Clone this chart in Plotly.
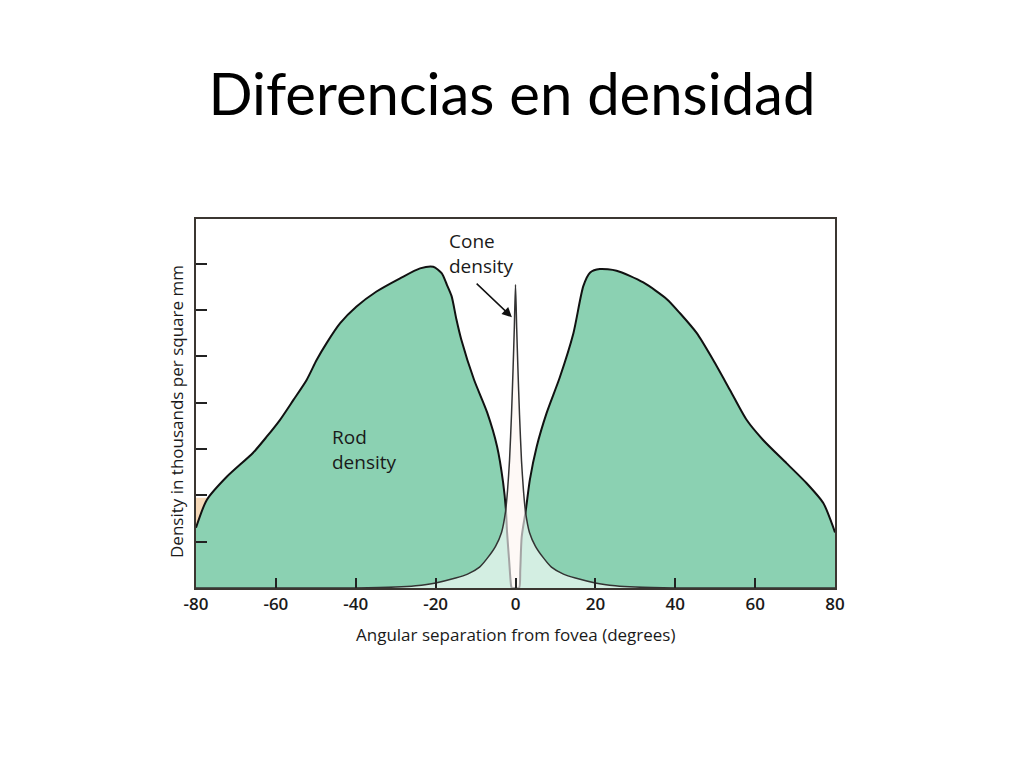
import plotly.graph_objects as go

# ---- data (degrees from fovea, density in thousands per mm^2) ----
rod_x = [-80, -77.3, -72.3, -65.7, -62.3, -59, -55.6, -52.3, -49.8, -47.3, -43.9,
         -39.8, -34.8, -28.9, -23.9, -20.6, -18.5, -17.2, -16.0, -14.8, -13.6, -10.4,
         -7.1, -4.6, -3.1, -2.4, -2.1, -1.6, -1.1, -0.9, 0, 0.9, 1.2, 1.55, 2.6, 3.6,
         5.3, 7.8, 11.1, 14.5, 17.0, 18.7, 21.1, 25.3, 32, 37.9, 41.2, 45.4, 49.5,
         53.7, 57.9, 62.0, 67.9, 72.9, 77.1, 79.2, 80]
rod_y = [26, 38, 48, 58.4, 65.3, 72.5, 81.2, 89.8, 98.4, 105.7, 114.3,
         121.5, 128, 133.7, 138, 138.7, 135.9, 131, 126, 116, 107.4, 90,
         75.8, 61, 45.5, 33.8, 23.8, 12, 1, 0, 0, 0, 8, 22, 33.8, 46.8,
         61, 75.6, 91, 110, 130.4, 136.2, 137.7, 137, 131.9, 124.7, 118.6, 110, 98.4,
         85.5, 72.5, 63.9, 53.8, 45.2, 36.6, 27.9, 24]

cone_x = [-80, -40, -30, -25, -20, -15, -12, -9, -7, -5, -3.5, -2.5, -2, -1.5, -1,
          -0.6, -0.3, 0, 0.3, 0.6, 1, 1.5, 2, 2.5, 3.5, 5, 7, 9, 12, 15, 20, 25, 30,
          40, 80]
cone_y = [0, 0, 0.4, 1, 2.2, 4.3, 6, 9, 13, 18, 24, 33, 42, 55, 75,
          95, 112, 131, 112, 95, 75, 55, 42, 33, 24, 18, 13, 9, 6, 4.3, 2.2, 1, 0.4,
          0, 0]

x_ticks = [-80, -60, -40, -20, 0, 20, 40, 60, 80]
y_ticks = [0, 20, 40, 60, 80, 100, 120, 140]

TXT = "Open Sans"
OFF = 8  # page body margin offset

fig = go.Figure()

# cream fill under cone curve (visible in the rod-free centre)
fig.add_trace(go.Scatter(x=cone_x, y=cone_y, mode="lines",
                         line=dict(width=0, shape="spline", smoothing=0.6),
                         fill="tozeroy", fillcolor="#fbf0e6",
                         hoverinfo="skip", showlegend=False))
# rod density
fig.add_trace(go.Scatter(x=rod_x, y=rod_y, mode="lines",
                         line=dict(color="#111111", width=2, shape="spline", smoothing=0.7),
                         fill="tozeroy", fillcolor="#8bd1b2",
                         hoverinfo="skip", showlegend=False))
# cone density overlay (pale wash over rods)
fig.add_trace(go.Scatter(x=cone_x, y=cone_y, mode="lines",
                         line=dict(color="#333333", width=1.5, shape="spline", smoothing=0.6),
                         fill="tozeroy", fillcolor="rgba(255,255,255,0.62)",
                         hoverinfo="skip", showlegend=False))

fig.add_shape(type="rect", xref="x", yref="y", x0=-80, x1=-77, y0=0, y1=39,
              fillcolor="#f6d9b8", line=dict(width=0), layer="below")

fig.update_layout(
    width=1024, height=768,
    margin=dict(l=196 - OFF, r=189 + OFF, t=219 - OFF, b=180 + OFF),
    paper_bgcolor="white", plot_bgcolor="white",
    showlegend=False,
    title=dict(text="Diferencias en densidad", x=(512 - OFF) / 1024, xref="container",
               xanchor="center",
               y=1 - (95 - OFF) / 768, yref="container", yanchor="middle",
               font=dict(family="Lato", size=58, color="#000000")),
    xaxis=dict(range=[-80, 80], tickvals=x_ticks, ticktext=[str(v) for v in x_ticks],
               ticks="inside", ticklen=10, tickwidth=1.5, tickcolor="#222222",
               showline=True, linecolor="#3b3631", linewidth=2, mirror=True,
               showgrid=False, zeroline=False,
               tickfont=dict(family=TXT, size=17, color="#1a1a1a", weight=600)),
    yaxis=dict(range=[0, 159.3], tickvals=y_ticks, showticklabels=False,
               ticks="inside", ticklen=11, tickwidth=1.5, tickcolor="#222222",
               showline=True, linecolor="#3b3631", linewidth=2, mirror=True,
               showgrid=False, zeroline=False),
)

fig.add_annotation(text="Angular separation from fovea (degrees)", xref="paper", yref="paper",
                   x=0.5, y=-(634 - 588) / (588 - 219), xanchor="center", yanchor="middle",
                   showarrow=False, font=dict(family=TXT, size=17, color="#1a1a1a"))
fig.add_annotation(text="Density in thousands per square mm", xref="paper", yref="paper",
                   x=-(196 - 176) / (835 - 196), y=(588 - 412) / (588 - 219),
                   xanchor="center", yanchor="middle", textangle=-90,
                   showarrow=False, font=dict(family=TXT, size=17, color="#1a1a1a"))

fig.add_annotation(text="Rod<br>density", x=-46.4, y=59.7, xref="x", yref="y",
                   xanchor="left", yanchor="middle", align="left", showarrow=False,
                   font=dict(family=TXT, size=19, color="#1a1a1a"))
fig.add_annotation(text="Cone<br>density", x=-17.1, y=144.2, xref="x", yref="y",
                   xanchor="left", yanchor="middle", align="left", showarrow=False,
                   font=dict(family=TXT, size=19, color="#1a1a1a"))
fig.add_annotation(text="", x=-0.9, y=116.9, xref="x", yref="y",
                   ax=-10.1, ay=132, axref="x", ayref="y",
                   showarrow=True, arrowhead=2, arrowsize=1.3, arrowwidth=1.5,
                   arrowcolor="#111111")

fig.write_html("out.html")
